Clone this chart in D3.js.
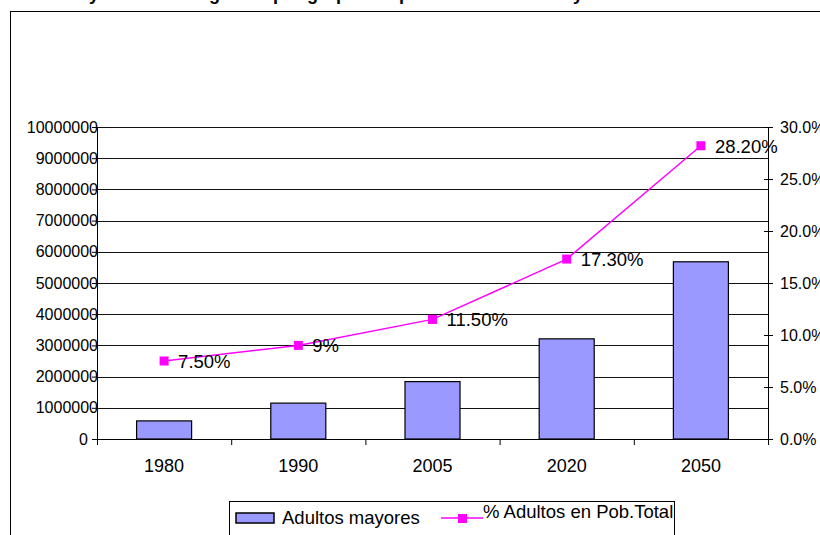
<!DOCTYPE html>
<html>
<head>
<meta charset="utf-8">
<script src="https://cdn.jsdelivr.net/npm/d3@7"></script>
<style>
  body { margin: 0; background: #fff; }
  svg { display: block; font-family: "Liberation Sans", Arial, sans-serif; }
</style>
</head>
<body>
<div id="chart"></div>
<script>
// data
const years = ["1980", "1990", "2005", "2020", "2050"];
const adultos = [580000, 1150000, 1840000, 3210000, 5680000];
const pctAdultos = [0.075, 0.09, 0.115, 0.173, 0.282];
const pctLabels = ["7.50%", "9%", "11.50%", "17.30%", "28.20%"];
const leftTicks = d3.range(0, 10000001, 1000000);
const rightTicks = [0, 0.05, 0.10, 0.15, 0.20, 0.25, 0.30];

const W = 820, H = 535;
const plot = {left: 97, right: 768, top: 127, bottom: 439};

const svg = d3.select("#chart").append("svg")
    .attr("width", W).attr("height", H);

// outer chart frame (runs off the right and bottom)
svg.append("rect")
    .attr("x", 10.5).attr("y", 11.5)
    .attr("width", W).attr("height", H)
    .attr("fill", "none").attr("stroke", "#000");

// title, cut off at the top like the original
svg.append("text")
    .attr("x", 330).attr("y", -0.5)
    .attr("text-anchor", "middle")
    .style("font-size", "18px").style("font-weight", "bold")
    .text("Proyección demográfica por grupos de población adulta mayor");

// scales
const x = d3.scaleBand()
    .domain(years)
    .range([plot.left, plot.right])
    .paddingInner(0.59)
    .paddingOuter(0.295);

const y = d3.scaleLinear()
    .domain([0, 10000000])
    .range([plot.bottom, plot.top]);

const yp = d3.scaleLinear()
    .domain([0, 0.30])
    .range([plot.bottom, plot.top]);

// gridlines
svg.append("g")
  .selectAll("line")
  .data(leftTicks.slice(1))
  .join("line")
    .attr("x1", plot.left).attr("x2", plot.right)
    .attr("y1", d => Math.round(y(d)) + 0.5)
    .attr("y2", d => Math.round(y(d)) + 0.5)
    .attr("stroke", "#111");

// bars
svg.append("g")
  .selectAll("rect")
  .data(years)
  .join("rect")
    .attr("x", d => x(d))
    .attr("y", (d, i) => y(adultos[i]))
    .attr("width", x.bandwidth())
    .attr("height", (d, i) => plot.bottom - y(adultos[i]))
    .attr("fill", "#9999ff")
    .attr("stroke", "#000")
    .attr("stroke-width", 1.2);

// left axis
const gl = svg.append("g")
    .attr("transform", `translate(${plot.left},0)`)
    .call(d3.axisLeft(y).tickValues(leftTicks).tickSize(5).tickSizeOuter(0)
        .tickPadding(-6).tickFormat(d3.format("d")));
gl.selectAll("text").style("font-size", "16px").attr("fill", "#000");
gl.selectAll(".tick text").filter(d => d === 0).attr("x", -9);
gl.selectAll("line, path").attr("stroke", "#000");

// right axis (ticks cross the line)
const gr = svg.append("g")
    .attr("transform", `translate(${plot.right},0)`)
    .call(d3.axisRight(yp).tickValues(rightTicks).tickSize(5).tickSizeOuter(0)
        .tickPadding(7).tickFormat(d3.format(".1%")));
gr.selectAll(".tick line").attr("x1", -4);
gr.selectAll("text").style("font-size", "16px").attr("fill", "#000");
gr.selectAll("line, path").attr("stroke", "#000");

// bottom axis: ticks between categories
const xb = d3.scaleLinear().domain([0, years.length]).range([plot.left, plot.right]);
const gb = svg.append("g")
    .attr("transform", `translate(0,${plot.bottom})`)
    .call(d3.axisBottom(xb).ticks(years.length).tickSize(6).tickSizeOuter(0).tickFormat(""));
gb.selectAll("line, path").attr("stroke", "#000");

const gx = svg.append("g")
    .attr("transform", `translate(0,${plot.bottom})`)
    .call(d3.axisBottom(x).tickSize(0).tickPadding(20));
gx.select(".domain").remove();
gx.selectAll("text").style("font-size", "18px").attr("fill", "#000");

// percentage line
const cx = d => x(d) + x.bandwidth() / 2;
const line = d3.line()
    .x((d, i) => cx(years[i]))
    .y(d => yp(d));

svg.append("path")
    .datum(pctAdultos)
    .attr("d", line)
    .attr("fill", "none")
    .attr("stroke", "#ff00ff")
    .attr("stroke-width", 1.5);

svg.append("g")
  .selectAll("rect")
  .data(pctAdultos)
  .join("rect")
    .attr("x", (d, i) => cx(years[i]) - 4.5)
    .attr("y", d => yp(d) - 4.5)
    .attr("width", 9).attr("height", 9)
    .attr("fill", "#ff00ff");

svg.append("g")
  .selectAll("text")
  .data(pctAdultos)
  .join("text")
    .attr("x", (d, i) => cx(years[i]) + 14)
    .attr("y", d => yp(d) + 7)
    .style("font-size", "18.5px")
    .text((d, i) => pctLabels[i]);

// legend
const lg = svg.append("g");
lg.append("rect")
    .attr("x", 229.5).attr("y", 501.5)
    .attr("width", 445).attr("height", 60)
    .attr("fill", "#fff").attr("stroke", "#000");
lg.append("rect")
    .attr("x", 236).attr("y", 513)
    .attr("width", 38).attr("height", 10)
    .attr("fill", "#9999ff").attr("stroke", "#000").attr("stroke-width", 1.5);
lg.append("text")
    .attr("x", 282).attr("y", 524)
    .style("font-size", "18.5px")
    .text("Adultos mayores");
lg.append("line")
    .attr("x1", 441).attr("x2", 483)
    .attr("y1", 518).attr("y2", 518)
    .attr("stroke", "#ff00ff").attr("stroke-width", 1.5);
lg.append("rect")
    .attr("x", 458).attr("y", 514)
    .attr("width", 9).attr("height", 9)
    .attr("fill", "#ff00ff");
lg.append("text")
    .attr("x", 483).attr("y", 518)
    .style("font-size", "18.5px")
    .text("% Adultos en Pob.Total");
</script>
</body>
</html>
